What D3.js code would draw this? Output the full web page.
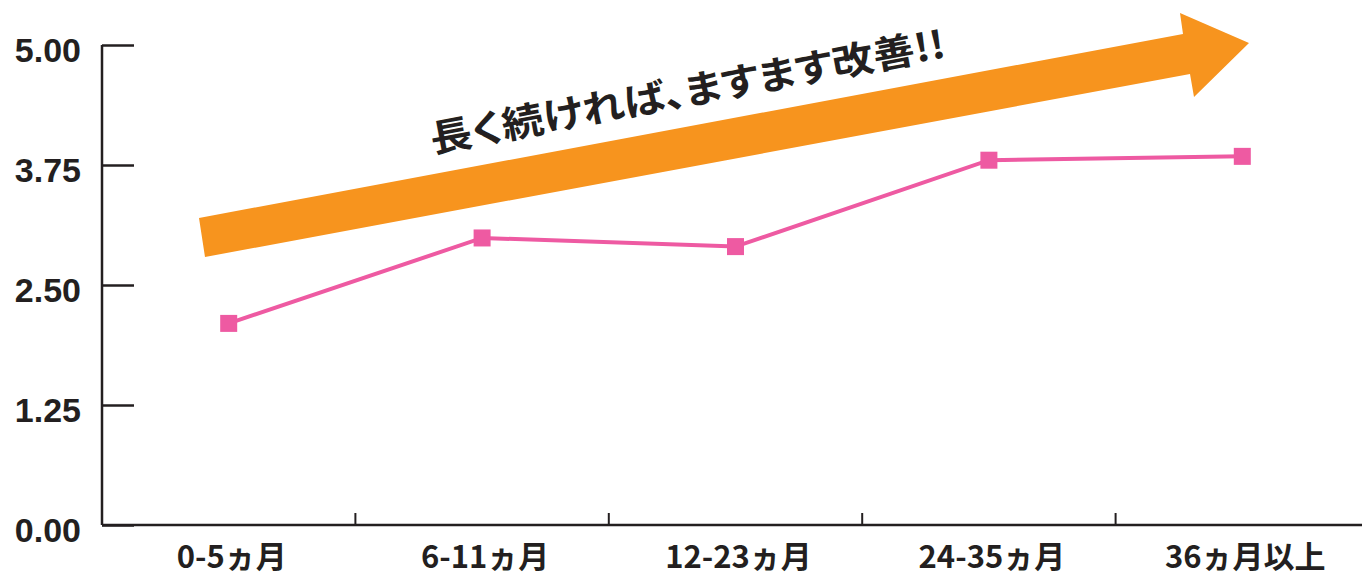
<!DOCTYPE html>
<html><head><meta charset="utf-8">
<script src="https://cdn.jsdelivr.net/npm/d3@7"></script>
<style>
html,body{margin:0;padding:0;background:#fff;overflow:hidden}
svg{display:block}
</style></head>
<body>
<svg id="chart" width="1362" height="578"></svg>
<script>
const categories = ["0-5ヵ月", "6-11ヵ月", "12-23ヵ月", "24-35ヵ月", "36ヵ月以上"];
const values = [2.10, 2.99, 2.90, 3.80, 3.84];
const yTicks = [0, 1.25, 2.5, 3.75, 5];
const annotation = "長く続ければ、ますます改善!!";

const svg = d3.select("#chart");
const ink = "#231F20", pink = "#EE5AA2", orange = "#F7941E";
const plotLeft = 102, plotBottom = 525, plotTop = 45;

const x = d3.scaleBand().domain(categories).range([plotLeft, plotLeft + 5 * 253.4]);
const y = d3.scaleLinear().domain([0, 5]).range([plotBottom, plotTop]);

// orange arrow (trend annotation)
const arrowPts = [[199,218],[1183,34],[1180,13],[1249,43],[1194,97],[1190,74],[205,257]];
svg.append("polygon").attr("points", arrowPts.map(p => p.join(",")).join(" ")).attr("fill", orange);

svg.append("text")
  .attr("transform", "translate(433,153) rotate(-10.6)")
  .attr("font-family", "'Noto Sans CJK JP', sans-serif")
  .attr("font-weight", 700)
  .attr("font-size", 38)
  .attr("fill", ink)
  .style("font-feature-settings", "'palt'")
  .attr("textLength", 523)
  .attr("lengthAdjust", "spacingAndGlyphs")
  .text(annotation);

// y axis
const yAxis = svg.append("g").attr("transform", `translate(${plotLeft},0)`)
  .call(d3.axisRight(y).tickValues(yTicks).tickSize(32).tickFormat(""));
yAxis.select(".domain").attr("d", `M0,${plotTop}V${plotBottom}`);
yAxis.selectAll("path,line").attr("stroke", ink).attr("stroke-width", 2.5);
svg.append("g").selectAll("text").data(yTicks).join("text")
  .attr("x", 81).attr("y", d => y(d) + 17)
  .attr("text-anchor", "end")
  .attr("font-family", "'Liberation Sans', Arial, sans-serif")
  .attr("font-weight", 700).attr("font-size", 34).attr("fill", ink)
  .text(d => d3.format(".2f")(d));

// x axis
const xAxis = svg.append("g").attr("transform", `translate(0,${plotBottom})`)
  .call(d3.axisTop(x).tickSize(0).tickFormat(""));
xAxis.select(".domain").attr("d", `M${plotLeft},0H1362`);
xAxis.selectAll("path").attr("stroke", ink).attr("stroke-width", 2.5);
svg.append("g").selectAll("line").data(categories.slice(1)).join("line")
  .attr("x1", d => x(d)).attr("x2", d => x(d))
  .attr("y1", plotBottom).attr("y2", plotBottom - 12)
  .attr("stroke", ink).attr("stroke-width", 2);
svg.append("g").selectAll("text").data(categories).join("text")
  .attr("x", d => x(d) + x.bandwidth() / 2 + 3).attr("y", 568)
  .attr("text-anchor", "middle")
  .attr("font-family", "'Liberation Sans Narrow', 'Noto Sans CJK JP', sans-serif")
  .attr("font-weight", 700).attr("font-size", 31).attr("fill", ink)
  .text(d => d);

// line + markers
const cx = d => x(d) + x.bandwidth() / 2;
const line = d3.line().x((d, i) => cx(categories[i])).y(d => y(d));
svg.append("path").datum(values).attr("d", line)
  .attr("fill", "none").attr("stroke", pink).attr("stroke-width", 4);
svg.append("g").selectAll("rect").data(values).join("rect")
  .attr("x", (d, i) => cx(categories[i]) - 8.5).attr("y", d => y(d) - 8.5)
  .attr("width", 17).attr("height", 17).attr("fill", pink);
</script>
</body></html>
